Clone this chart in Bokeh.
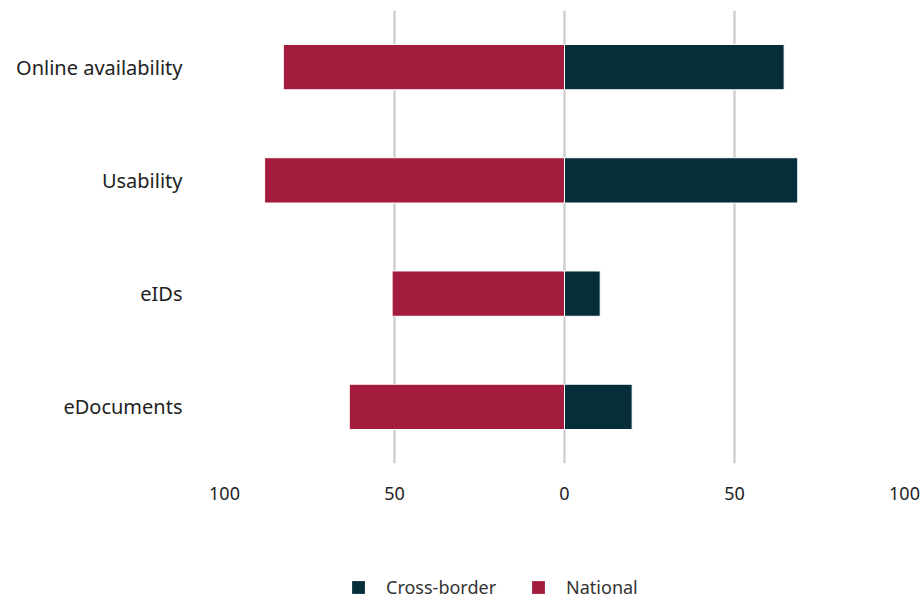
from bokeh.plotting import figure
from bokeh.models import Range1d, FactorRange, FixedTicker, Legend, LegendItem
from bokeh.layouts import column
from bokeh.embed import file_html
from bokeh.resources import INLINE

categories = ["Online availability", "Usability", "eIDs", "eDocuments"]
national = [82.7, 88.2, 50.7, 63.3]
cross_border = [64.6, 68.6, 10.5, 19.9]
tick_values = [-100, -50, 0, 50, 100]
tick_labels = ["100", "50", "0", "50", "100"]
series_names = ["Cross-border", "National"]

NAT_COLOR = "#A41C3D"
CROSS_COLOR = "#052D3A"
FONT = "Noto Sans"

p = figure(width=920, height=560, output_backend="svg", toolbar_location=None,
           y_range=FactorRange(*reversed(categories)), x_range=Range1d(-100, 100),
           min_border_left=224, min_border_right=16, min_border_top=10, min_border_bottom=97)
p.outline_line_color = None

nat_left = [-v for v in national]
zeros = [0] * len(categories)
p.hbar(y=categories, left=nat_left, right=zeros, height=0.4,
       fill_color=NAT_COLOR, line_color="white", line_width=1)
p.hbar(y=categories, left=zeros, right=cross_border, height=0.4,
       fill_color=CROSS_COLOR, line_color="white", line_width=1)

p.xaxis.ticker = FixedTicker(ticks=tick_values)
p.xaxis.major_label_overrides = {v: l for v, l in zip(tick_values, tick_labels)}
for ax in (p.xaxis, p.yaxis):
    ax.axis_line_color = None
    ax.major_tick_line_color = None
    ax.minor_tick_line_color = None
    ax.major_label_text_font = FONT
    ax.major_label_text_color = "#222222"
p.xaxis.major_label_text_font_size = "18px"
p.yaxis.major_label_text_font_size = "20px"
p.xaxis.major_label_standoff = 17
p.yaxis.major_label_standoff = 36

p.xgrid.grid_line_color = "#d0d0d0"
p.xgrid.grid_line_width = 2.5
p.ygrid.grid_line_color = None

# legend strip
lg = figure(width=920, height=40, output_backend="svg", toolbar_location=None,
            x_range=Range1d(0, 1), y_range=Range1d(0, 1),
            x_axis_type=None, y_axis_type=None, min_border=0)
lg.outline_line_color = None
lg.xgrid.grid_line_color = None
lg.ygrid.grid_line_color = None
d_cross = lg.quad(left=[-10], right=[-9], bottom=[-10], top=[-9],
                  fill_color=CROSS_COLOR, line_color=None)
d_nat = lg.quad(left=[-10], right=[-9], bottom=[-10], top=[-9],
                fill_color=NAT_COLOR, line_color=None)
legend = Legend(items=[LegendItem(label=series_names[0], renderers=[d_cross]),
                       LegendItem(label=series_names[1], renderers=[d_nat])],
                orientation="horizontal", location=(126, 1),
                glyph_width=16, glyph_height=16, label_standoff=20, spacing=34,
                padding=0, margin=0, border_line_color=None, background_fill_alpha=0,
                label_text_font=FONT, label_text_font_size="18px", label_text_color="#333333")
lg.add_layout(legend, "center")

open("out.html", "w").write(file_html(column(p, lg, spacing=0), INLINE))
